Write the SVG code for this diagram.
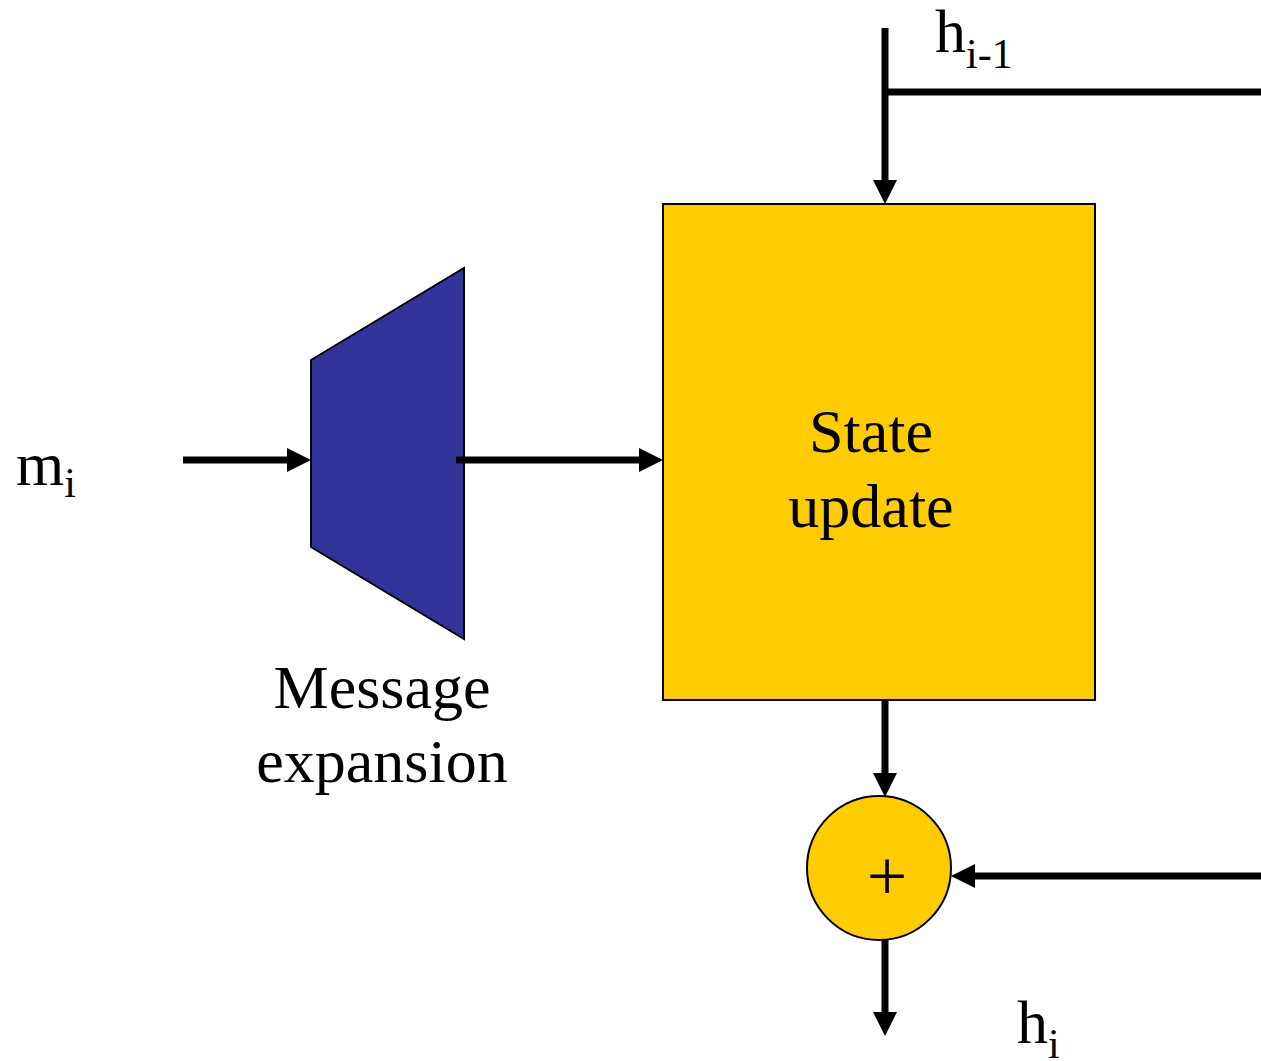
<svg xmlns="http://www.w3.org/2000/svg" width="1261" height="1061" viewBox="0 0 1261 1061">
<style>
.t{font-family:"Liberation Serif","Times New Roman",serif;fill:#000}
.big{font-size:62px}
.sub{font-size:42px}
.ln{stroke:#000;stroke-width:7;fill:none}
</style>
<defs>
<marker id="ah" markerUnits="userSpaceOnUse" markerWidth="24" markerHeight="24" viewBox="0 0 24 24" refX="2" refY="12" orient="auto">
<path d="M0,0 L24,12 L0,24 Z" fill="#000"/>
</marker>
</defs>
<rect width="1261" height="1061" fill="#fff"/>
<g id="state-update">
<rect x="663" y="204" width="432" height="496" fill="#FFCC00" stroke="#000" stroke-width="2"/>
<text class="t big" x="871" y="452" text-anchor="middle">State</text>
<text class="t big" x="871" y="527" text-anchor="middle">update</text>
</g>
<g id="message-expansion">
<polygon points="311,360 464,268 464,639 311,547" fill="#333399" stroke="#000" stroke-width="2"/>
<text class="t big" x="382" y="708" text-anchor="middle">Message</text>
<text class="t big" x="382" y="782" text-anchor="middle">expansion</text>
</g>
<g id="adder">
<circle cx="879" cy="868" r="72" fill="#FFCC00" stroke="#000" stroke-width="2"/>
<text class="t" x="887" y="900" font-size="72" text-anchor="middle">+</text>
</g>
<g id="labels">
<text class="t big" x="16" y="485">m<tspan class="sub" dy="12">i</tspan></text>
<text class="t big" x="935" y="52">h<tspan class="sub" dy="16">i-1</tspan></text>
<text class="t big" x="1017" y="1043">h<tspan class="sub" dy="15">i</tspan></text>
</g>
<g id="connectors">
<line class="ln" x1="885" y1="28" x2="885" y2="182" marker-end="url(#ah)"/>
<line class="ln" x1="885" y1="92" x2="1261" y2="92"/>
<line class="ln" x1="183" y1="460" x2="289" y2="460" marker-end="url(#ah)"/>
<line class="ln" x1="456" y1="460" x2="641" y2="460" marker-end="url(#ah)"/>
<line class="ln" x1="885" y1="700" x2="885" y2="775" marker-end="url(#ah)"/>
<line class="ln" x1="1261" y1="876" x2="973" y2="876" marker-end="url(#ah)"/>
<line class="ln" x1="885" y1="940" x2="885" y2="1014" marker-end="url(#ah)"/>
</g>
</svg>
